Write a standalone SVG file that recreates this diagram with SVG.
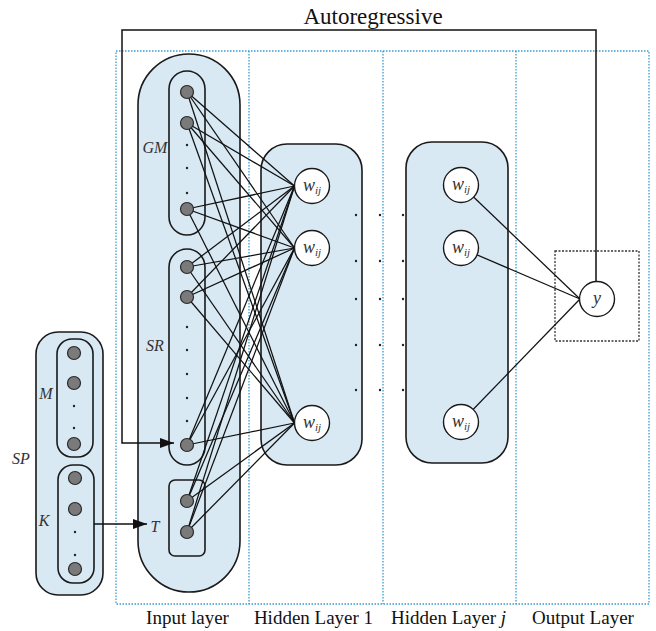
<svg xmlns="http://www.w3.org/2000/svg" width="656" height="631" viewBox="0 0 656 631">
<defs>
<style>
.pill{fill:#d8e9f4;stroke:#1a1a1a;stroke-width:1.6}
.frame{fill:none;stroke:#3a9bd2;stroke-width:1.3;stroke-dasharray:1.5 1.5}
.in{fill:#7a7a7a;stroke:#2a2a2a;stroke-width:1.2}
.w{fill:#fff;stroke:#1a1a1a;stroke-width:1.4}
.dot{fill:#222}
.ln{stroke:#111;stroke-width:1.25;fill:none}
.lab{font-family:"Liberation Serif",serif;font-style:italic;font-size:16px;fill:#333;text-anchor:middle}
.wt{font-family:"Liberation Serif",serif;font-style:italic;font-size:18px;fill:#333;text-anchor:middle}
.layer{font-family:"Liberation Serif",serif;font-size:19px;fill:#111;text-anchor:middle}
</style>
<marker id="arr" markerUnits="userSpaceOnUse" markerWidth="15" markerHeight="11" refX="14" refY="5" orient="auto">
<path d="M0,0 L14,5 L0,10 z" fill="#111"/>
</marker>
</defs>
<rect width="656" height="631" fill="#fff"/>

<g id="layer-frames">
<rect class="frame" x="116" y="51" width="533" height="553"/>
<line class="frame" x1="249" y1="51" x2="249" y2="604"/>
<line class="frame" x1="383" y1="51" x2="383" y2="604"/>
<line class="frame" x1="516" y1="51" x2="516" y2="604"/>
</g>

<g id="sp-group">
<rect class="pill" x="36" y="332" width="67" height="263" rx="22"/>
<rect class="pill" x="57" y="339" width="36" height="118" rx="15"/>
<rect class="pill" x="58" y="465" width="36" height="118" rx="15"/>
</g>

<g id="input-layer">
<rect class="pill" x="138" y="54" width="102" height="538" rx="51"/>
<rect class="pill" x="169" y="71" width="36" height="164" rx="18"/>
<rect class="pill" x="169" y="249" width="36" height="216" rx="18"/>
<rect class="pill" x="169" y="480" width="36" height="76" rx="6"/>
</g>

<g id="hidden-layer-1">
<rect class="pill" x="261" y="144" width="101" height="321" rx="26"/>
</g>
<g id="hidden-layer-j">
<rect class="pill" x="406" y="142" width="102" height="321" rx="26"/>
</g>

<g id="output-box">
<rect x="555" y="251" width="84" height="90" fill="none" stroke="#333" stroke-width="1.3" stroke-dasharray="2 1.5"/>
</g>

<g id="connectors" class="ln">
<line x1="187" y1="92" x2="294.5" y2="186"/><line x1="187" y1="92" x2="294.5" y2="248"/><line x1="187" y1="92" x2="294.5" y2="423"/>
<line x1="187" y1="123" x2="294.5" y2="186"/><line x1="187" y1="123" x2="294.5" y2="248"/><line x1="187" y1="123" x2="294.5" y2="423"/>
<line x1="187" y1="209" x2="294.5" y2="186"/><line x1="187" y1="209" x2="294.5" y2="248"/><line x1="187" y1="209" x2="294.5" y2="423"/>
<line x1="187" y1="267" x2="294.5" y2="186"/><line x1="187" y1="267" x2="294.5" y2="248"/><line x1="187" y1="267" x2="294.5" y2="423"/>
<line x1="187" y1="297" x2="294.5" y2="186"/><line x1="187" y1="297" x2="294.5" y2="248"/><line x1="187" y1="297" x2="294.5" y2="423"/>
<line x1="187" y1="445" x2="294.5" y2="186"/><line x1="187" y1="445" x2="294.5" y2="248"/><line x1="187" y1="445" x2="294.5" y2="423"/>
<line x1="187" y1="501" x2="294.5" y2="186"/><line x1="187" y1="501" x2="294.5" y2="248"/><line x1="187" y1="501" x2="294.5" y2="423"/>
<line x1="187" y1="532" x2="294.5" y2="186"/><line x1="187" y1="532" x2="294.5" y2="248"/><line x1="187" y1="532" x2="294.5" y2="423"/>
<line x1="461" y1="185" x2="580" y2="299"/>
<line x1="461" y1="248" x2="580" y2="299"/>
<line x1="461" y1="422" x2="580" y2="299"/>
<path d="M596,281 V30 H122 V443 H174" stroke-width="1.5" marker-end="url(#arr)"/>
<path d="M94,524 H147" stroke-width="1.5" marker-end="url(#arr)"/>
</g>

<g id="input-nodes">
<circle class="in" cx="187" cy="92" r="6.5"/>
<circle class="in" cx="187" cy="123" r="6.5"/>
<circle class="in" cx="187" cy="209" r="6.5"/>
<circle class="in" cx="187" cy="267" r="6.5"/>
<circle class="in" cx="187" cy="297" r="6.5"/>
<circle class="in" cx="187" cy="445" r="6.5"/>
<circle class="in" cx="187" cy="501" r="6.5"/>
<circle class="in" cx="187" cy="532" r="6.5"/>
<circle class="dot" cx="187" cy="145" r="1.2"/><circle class="dot" cx="187" cy="168" r="1.2"/><circle class="dot" cx="187" cy="193" r="1.2"/>
<circle class="dot" cx="187" cy="327" r="1.2"/><circle class="dot" cx="187" cy="350" r="1.2"/><circle class="dot" cx="187" cy="374" r="1.2"/><circle class="dot" cx="187" cy="398" r="1.2"/><circle class="dot" cx="187" cy="421" r="1.2"/>
<text class="lab" x="155" y="153">GM</text>
<text class="lab" x="155" y="351">SR</text>
<text class="lab" x="155" y="532">T</text>
</g>

<g id="sp-nodes">
<circle class="in" cx="74" cy="353" r="6.5"/>
<circle class="in" cx="74" cy="383" r="6.5"/>
<circle class="in" cx="74" cy="444" r="6.5"/>
<circle class="in" cx="75" cy="478" r="6.5"/>
<circle class="in" cx="75" cy="509" r="6.5"/>
<circle class="in" cx="75" cy="569" r="6.5"/>
<circle class="dot" cx="74" cy="406" r="1.2"/><circle class="dot" cx="74" cy="428" r="1.2"/>
<circle class="dot" cx="75" cy="532" r="1.2"/><circle class="dot" cx="75" cy="555" r="1.2"/>
<text class="lab" x="46" y="399">M</text>
<text class="lab" x="44" y="526">K</text>
<text class="lab" x="21" y="464">SP</text>
</g>

<g id="hidden1-nodes">
<circle class="w" cx="312" cy="186" r="17.5"/>
<circle class="w" cx="312" cy="248" r="17.5"/>
<circle class="w" cx="312" cy="423" r="17.5"/>
<text class="wt" x="312" y="191">w<tspan font-size="11" dy="3">ij</tspan></text>
<text class="wt" x="312" y="253">w<tspan font-size="11" dy="3">ij</tspan></text>
<text class="wt" x="312" y="428">w<tspan font-size="11" dy="3">ij</tspan></text>
</g>

<g id="hidden-dots">
<circle class="dot" cx="356" cy="215" r="1.2"/><circle class="dot" cx="356" cy="261" r="1.2"/><circle class="dot" cx="356" cy="299" r="1.2"/><circle class="dot" cx="356" cy="345" r="1.2"/><circle class="dot" cx="356" cy="390" r="1.2"/>
<circle class="dot" cx="380" cy="215" r="1.2"/><circle class="dot" cx="380" cy="261" r="1.2"/><circle class="dot" cx="380" cy="299" r="1.2"/><circle class="dot" cx="380" cy="345" r="1.2"/><circle class="dot" cx="380" cy="390" r="1.2"/>
<circle class="dot" cx="403" cy="215" r="1.2"/><circle class="dot" cx="403" cy="261" r="1.2"/><circle class="dot" cx="403" cy="299" r="1.2"/><circle class="dot" cx="403" cy="345" r="1.2"/><circle class="dot" cx="403" cy="390" r="1.2"/>
</g>

<g id="hiddenj-nodes">
<circle class="w" cx="461" cy="185" r="17.5"/>
<circle class="w" cx="461" cy="248" r="17.5"/>
<circle class="w" cx="461" cy="422" r="17.5"/>
<text class="wt" x="461" y="190">w<tspan font-size="11" dy="3">ij</tspan></text>
<text class="wt" x="461" y="253">w<tspan font-size="11" dy="3">ij</tspan></text>
<text class="wt" x="461" y="427">w<tspan font-size="11" dy="3">ij</tspan></text>
</g>

<g id="output-node">
<circle class="w" cx="597" cy="299" r="17.5"/>
<text class="wt" x="597" y="304">y</text>
</g>

<g id="labels">
<text x="373" y="24" font-family="Liberation Serif, serif" font-size="23" fill="#111" text-anchor="middle">Autoregressive</text>
<text class="layer" x="187.5" y="624">Input layer</text>
<text class="layer" x="313.5" y="624">Hidden Layer 1</text>
<text class="layer" x="448.5" y="624">Hidden Layer <tspan font-style="italic">j</tspan></text>
<text class="layer" x="583" y="624">Output Layer</text>
</g>
</svg>
